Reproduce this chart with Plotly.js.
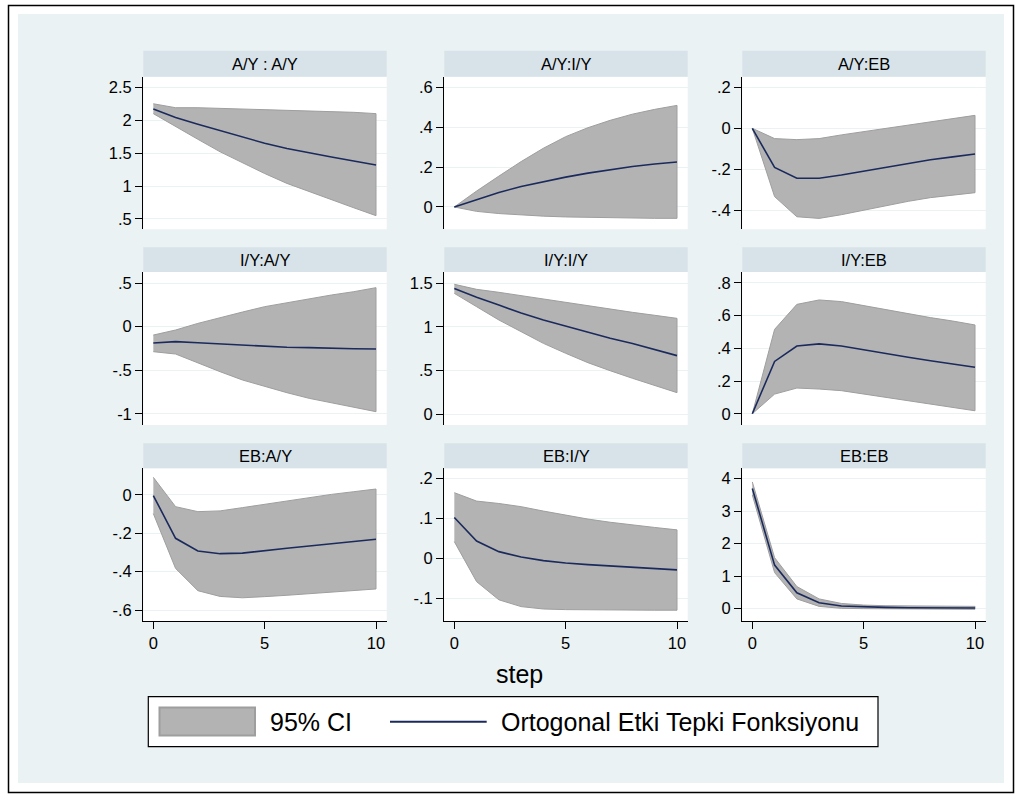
<!DOCTYPE html>
<html>
<head>
<meta charset="utf-8">
<script src="https://cdn.plot.ly/plotly-3.0.1.min.js"></script>
<style>html,body{margin:0;padding:0;background:#fff;}#chart{width:1022px;height:794px;}</style>
</head>
<body>
<div id="chart"></div>
<script>
// ---------- data ----------
const steps = [0,1,2,3,4,5,6,7,8,9,10];
const panelTitles = ["A/Y : A/Y","A/Y:I/Y","A/Y:EB","I/Y:A/Y","I/Y:I/Y","I/Y:EB","EB:A/Y","EB:I/Y","EB:EB"];
const xTickVals = [0,5,10];
const xTickText = ["0","5","10"];
const legendLabels = ["95% CI","Ortogonal Etki Tepki Fonksiyonu"];
const xTitle = "step";

// A/Y : A/Y
const irf_AY_AY = [2.17,2.04,1.94,1.84,1.74,1.65,1.57,1.50,1.44,1.38,1.32];
const hi_AY_AY  = [2.25,2.19,2.19,2.18,2.18,2.17,2.16,2.15,2.14,2.12,2.10];
const lo_AY_AY  = [2.10,1.90,1.71,1.52,1.35,1.19,1.04,0.91,0.79,0.67,0.55];
// A/Y : I/Y
const irf_AY_IY = [0,0.038,0.073,0.103,0.128,0.150,0.170,0.188,0.203,0.216,0.226];
const hi_AY_IY  = [0,0.08,0.155,0.228,0.295,0.353,0.398,0.435,0.466,0.49,0.51];
const lo_AY_IY  = [0,-0.022,-0.033,-0.040,-0.046,-0.050,-0.053,-0.055,-0.056,-0.057,-0.057];
// A/Y : EB
const irf_AY_EB = [0,-0.19,-0.243,-0.243,-0.227,-0.208,-0.188,-0.169,-0.153,-0.139,-0.125];
const hi_AY_EB  = [0,-0.05,-0.055,-0.05,-0.032,-0.016,0.0,0.016,0.032,0.047,0.063];
const lo_AY_EB  = [0,-0.332,-0.43,-0.438,-0.42,-0.40,-0.376,-0.355,-0.337,-0.324,-0.313];
// I/Y : A/Y
const irf_IY_AY = [-0.188,-0.172,-0.184,-0.199,-0.214,-0.230,-0.237,-0.241,-0.249,-0.253,-0.256];
const hi_IY_AY  = [-0.096,-0.038,0.038,0.107,0.168,0.23,0.276,0.321,0.364,0.402,0.448];
const lo_IY_AY  = [-0.287,-0.314,-0.413,-0.517,-0.612,-0.689,-0.758,-0.823,-0.88,-0.926,-0.976];
// I/Y : I/Y
const irf_IY_IY = [1.44,1.34,1.25,1.16,1.08,1.01,0.94,0.87,0.81,0.74,0.67];
const hi_IY_IY  = [1.489,1.431,1.397,1.358,1.317,1.278,1.24,1.20,1.167,1.133,1.098];
const lo_IY_IY  = [1.385,1.232,1.079,0.945,0.811,0.697,0.589,0.497,0.41,0.325,0.245];
// I/Y : EB
const irf_IY_EB = [0,0.32,0.414,0.427,0.414,0.39,0.365,0.345,0.324,0.304,0.284];
const hi_IY_EB  = [0,0.516,0.669,0.696,0.686,0.661,0.635,0.61,0.588,0.567,0.543];
const lo_IY_EB  = [0,0.12,0.157,0.151,0.141,0.12,0.1,0.08,0.059,0.039,0.018];
// EB : A/Y
const irf_EB_AY = [-0.003,-0.226,-0.292,-0.306,-0.303,-0.292,-0.278,-0.266,-0.254,-0.242,-0.231];
const hi_EB_AY  = [0.092,-0.061,-0.087,-0.083,-0.066,-0.049,-0.03,-0.012,0.003,0.017,0.031];
const lo_EB_AY  = [-0.097,-0.383,-0.499,-0.529,-0.536,-0.530,-0.523,-0.517,-0.508,-0.499,-0.49];
// EB : I/Y
const irf_EB_IY = [0.103,0.044,0.0175,0.004,-0.005,-0.011,-0.015,-0.018,-0.022,-0.025,-0.028];
const hi_EB_IY  = [0.165,0.144,0.138,0.13,0.119,0.109,0.099,0.091,0.084,0.078,0.072];
const lo_EB_IY  = [0.0425,-0.0575,-0.103,-0.12,-0.126,-0.1275,-0.129,-0.129,-0.129,-0.129,-0.129];
// EB : EB
const irf_EB_EB = [3.70,1.34,0.49,0.18,0.08,0.05,0.04,0.03,0.02,0.02,0.02];
const hi_EB_EB  = [3.90,1.57,0.68,0.30,0.16,0.11,0.09,0.08,0.07,0.07,0.07];
const lo_EB_EB  = [3.50,1.11,0.30,0.07,0.01,0.0,-0.01,-0.01,-0.02,-0.02,-0.02];

// y tick labels per panel
const yTickVals = [
  [0.5,1,1.5,2,2.5],[0,0.2,0.4,0.6],[-0.4,-0.2,0,0.2],
  [-1,-0.5,0,0.5],[0,0.5,1,1.5],[0,0.2,0.4,0.6,0.8],
  [-0.6,-0.4,-0.2,0],[-0.1,0,0.1,0.2],[0,1,2,3,4]
];
const yTickText = [
  [".5","1","1.5","2","2.5"],["0",".2",".4",".6"],["-.4","-.2","0",".2"],
  ["-1","-.5","0",".5"],["0",".5","1","1.5"],["0",".2",".4",".6",".8"],
  ["-.6","-.4","-.2","0"],["-.1","0",".1",".2"],["0","1","2","3","4"]
];

const irfs = [irf_AY_AY,irf_AY_IY,irf_AY_EB,irf_IY_AY,irf_IY_IY,irf_IY_EB,irf_EB_AY,irf_EB_IY,irf_EB_EB];
const his  = [hi_AY_AY,hi_AY_IY,hi_AY_EB,hi_IY_AY,hi_IY_IY,hi_IY_EB,hi_EB_AY,hi_EB_IY,hi_EB_EB];
const los  = [lo_AY_AY,lo_AY_IY,lo_AY_EB,lo_IY_AY,lo_IY_IY,lo_IY_EB,lo_EB_AY,lo_EB_IY,lo_EB_EB];

// ---------- layout geometry (pixels) ----------
const W = 1022, H = 794;
const fx = p => p / W;
const fy = p => 1 - p / H;
const colX = [[143.3,386.7],[444.3,687.7],[742.3,985.7]];
const rowStrip = [[50.7,76.7],[247.3,272],[443.3,468.3]];
const rowPlot = [[76.7,229.3],[272,425],[468.3,621]];
const yRanges = [
  [0.343,2.661],[-0.112,0.654],[-0.491,0.251],
  [-1.129,0.628],[-0.126,1.63],[-0.069,0.867],
  [-0.657,0.139],[-0.156,0.226],[-0.38,4.32]
];

const FONT = 'Arial, "Liberation Sans", sans-serif';
const BAND_FILL = '#b3b3b3';
const BAND_LINE = '#9e9e9e';
const LINE_COL = '#1b2a5c';
const BG = '#eaf2f3';
const STRIP = '#d7e3e9';

const traces = [];
const layout = {
  width: W, height: H,
  margin: {l:0,r:0,t:0,b:0,pad:0},
  paper_bgcolor: BG,
  plot_bgcolor: '#ffffff',
  showlegend: false,
  font: {family: FONT, color: '#000', size: 16.5},
  shapes: [],
  annotations: []
};

for (let i = 0; i < 9; i++) {
  const r = Math.floor(i/3), c = i % 3;
  const sfx = i === 0 ? '' : String(i+1);
  const xa = 'x' + sfx, ya = 'y' + sfx;
  const bandX = steps.concat(steps.slice().reverse());
  const bandY = his[i].concat(los[i].slice().reverse());
  traces.push({
    x: bandX, y: bandY, xaxis: xa, yaxis: ya,
    type: 'scatter', mode: 'lines', fill: 'toself',
    fillcolor: BAND_FILL, line: {color: BAND_LINE, width: 1},
    hoverinfo: 'skip'
  });
  traces.push({
    x: steps, y: irfs[i], xaxis: xa, yaxis: ya,
    type: 'scatter', mode: 'lines',
    line: {color: LINE_COL, width: 1.6},
    hoverinfo: 'skip'
  });
  const bottom = (r === 2);
  layout['xaxis' + sfx] = {
    domain: [fx(colX[c][0]), fx(colX[c][1])],
    anchor: ya,
    range: [-0.45, 10.48],
    showgrid: false, zeroline: false,
    showline: bottom, linecolor: '#000', linewidth: 1.2,
    ticks: bottom ? 'outside' : '', ticklen: 7, tickwidth: 1, tickcolor: '#000',
    tickvals: xTickVals, ticktext: xTickText,
    showticklabels: bottom,
    tickfont: {family: FONT, size: 16.5, color: '#000'},
    fixedrange: true
  };
  layout['yaxis' + sfx] = {
    domain: [fy(rowPlot[r][1]), fy(rowPlot[r][0])],
    anchor: xa,
    range: yRanges[i],
    showgrid: true, gridcolor: BG, gridwidth: 1,
    zeroline: false,
    showline: true, linecolor: '#000', linewidth: 1.2,
    ticks: 'outside', ticklen: 7, tickwidth: 1, tickcolor: '#000',
    tickvals: yTickVals[i], ticktext: yTickText[i],
    tickfont: {family: FONT, size: 16.5, color: '#000'},
    fixedrange: true
  };
  // strip header
  layout.shapes.push({
    type: 'rect', xref: 'paper', yref: 'paper',
    x0: fx(colX[c][0]), x1: fx(colX[c][1]),
    y0: fy(rowStrip[r][1]), y1: fy(rowStrip[r][0]),
    fillcolor: STRIP, line: {width: 0}, layer: 'above'
  });
  layout.annotations.push({
    xref: 'paper', yref: 'paper',
    x: fx((colX[c][0] + colX[c][1]) / 2),
    y: fy((rowStrip[r][0] + rowStrip[r][1]) / 2),
    xanchor: 'center', yanchor: 'middle',
    text: panelTitles[i], showarrow: false,
    font: {family: FONT, size: 16.5, color: '#000'}
  });
}

// white frame around graph region and outer border
const frame = [[0,0,W,14],[0,783,W,H],[0,0,18,H],[1004,0,W,H]];
frame.forEach(f => layout.shapes.push({
  type: 'rect', xref: 'paper', yref: 'paper',
  x0: fx(f[0]), x1: fx(f[2]), y0: fy(f[3]), y1: fy(f[1]),
  fillcolor: '#ffffff', line: {width: 0}, layer: 'above'
}));
layout.shapes.push({
  type: 'rect', xref: 'paper', yref: 'paper',
  x0: fx(8.5), x1: fx(1013.5), y0: fy(792.5), y1: fy(5.5),
  fillcolor: 'rgba(0,0,0,0)', line: {color: '#000', width: 1.5}, layer: 'above'
});

// x-axis title
layout.annotations.push({
  xref: 'paper', yref: 'paper', x: fx(519.5), y: fy(674),
  xanchor: 'center', yanchor: 'middle', showarrow: false,
  text: xTitle, font: {family: FONT, size: 25, color: '#000'}
});

// legend
layout.shapes.push({
  type: 'rect', xref: 'paper', yref: 'paper',
  x0: fx(148.3), x1: fx(878), y0: fy(746.7), y1: fy(696.7),
  fillcolor: '#ffffff', line: {color: '#000', width: 1.2}, layer: 'above'
});
layout.shapes.push({
  type: 'rect', xref: 'paper', yref: 'paper',
  x0: fx(159.5), x1: fx(255), y0: fy(735.5), y1: fy(707.5),
  fillcolor: BAND_FILL, line: {color: BAND_LINE, width: 2}, layer: 'above'
});
layout.shapes.push({
  type: 'line', xref: 'paper', yref: 'paper',
  x0: fx(390), x1: fx(486.7), y0: fy(721.7), y1: fy(721.7),
  line: {color: LINE_COL, width: 2}, layer: 'above'
});
layout.annotations.push({
  xref: 'paper', yref: 'paper', x: fx(268), y: fy(721.7),
  xanchor: 'left', yanchor: 'middle', showarrow: false,
  text: legendLabels[0], font: {family: FONT, size: 25, color: '#000'}
});
layout.annotations.push({
  xref: 'paper', yref: 'paper', x: fx(498.5), y: fy(721.7),
  xanchor: 'left', yanchor: 'middle', showarrow: false,
  text: legendLabels[1], font: {family: FONT, size: 25, color: '#000'}
});

Plotly.newPlot('chart', traces, layout, {displayModeBar: false, staticPlot: true});
</script>
</body>
</html>
